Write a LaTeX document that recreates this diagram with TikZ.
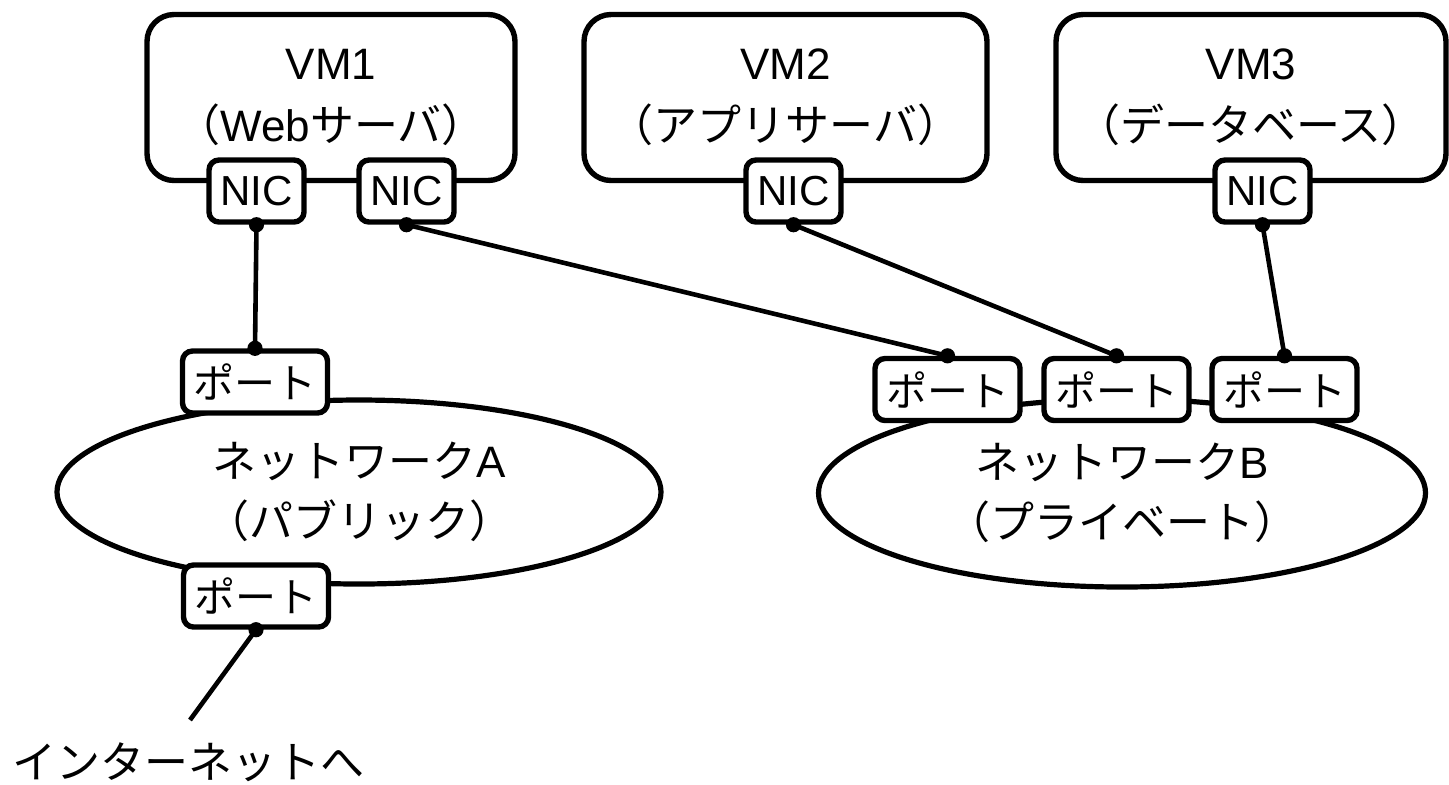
\documentclass[tikz,border=0pt]{standalone}
\usepackage{fontspec}
\setmainfont{Noto Sans CJK JP}
\newfontfamily\lat{Liberation Sans}
\usetikzlibrary{shapes.geometric}
\begin{document}
\begin{tikzpicture}[x=0.5pt,y=-0.5pt,
  vmbox/.style={draw, line width=2.7pt, rounded corners=13.5pt, fill=white, align=center,
    font=\fontsize{22}{31}\selectfont, inner sep=0pt, minimum height=83pt},
  nic/.style={draw, line width=2.7pt, rounded corners=5pt, fill=white, minimum width=47.5pt,
    minimum height=31pt, inner sep=0pt, font=\lat\fontsize{21}{24}\selectfont},
  port/.style={draw, line width=2.7pt, rounded corners=5pt, fill=white, minimum width=72.5pt,
    minimum height=31pt, inner sep=0pt, font=\fontsize{20.5}{24}\selectfont},
  net/.style={draw, ellipse, line width=2.6pt, inner sep=0pt, align=center,
    font=\fontsize{22}{30}\selectfont},
  conn/.style={line width=2.3pt},
  dotr/.style={radius=3.8pt}
]
\useasboundingbox (0,0) rectangle (1449,784);

% networks
\node[net, minimum width=302pt, minimum height=92pt] (na) at (359,492)
  {ネットワーク{\lat A}\\（パブリック）};
\node[net, minimum width=303.5pt, minimum height=94pt] (nb) at (1122,493)
  {ネットワーク{\lat B}\\（プライベート）};

% ports
\node[port] (pa1) at (255,382) {ポート};
\node[port] (pa2) at (256,596) {ポート};
\node[port] (pb1) at (947.5,389.5) {ポート};
\node[port] (pb2) at (1116.5,389.5) {ポート};
\node[port] (pb3) at (1284.5,389.5) {ポート};

% VMs
\node[vmbox, minimum width=184pt] (vm1) at (331,97.5) {{\lat VM1}\\（{\lat Web}サーバ）};
\node[vmbox, minimum width=201.5pt] (vm2) at (785.5,97.5) {{\lat VM2}\\（アプリサーバ）};
\node[vmbox, minimum width=195pt] (vm3) at (1251,97.5) {{\lat VM3}\\（データベース）};

% NICs
\node[nic] (n1) at (256.5,191) {NIC};
\node[nic] (n2) at (406.5,191) {NIC};
\node[nic] (n3) at (793.5,191) {NIC};
\node[nic] (n4) at (1262.5,191) {NIC};

% connectors
\coordinate (inet) at (190,720);
\draw[conn] (n1.south) -- (pa1.north);
\draw[conn] (n2.south) -- (pb1.north);
\draw[conn] (n3.south) -- (pb2.north);
\draw[conn] (n4.south) -- (pb3.north);
\draw[conn] (pa2.south) -- (inet);

\foreach \p in {n1.south,n2.south,n3.south,n4.south,pa1.north,pb1.north,pb2.north,pb3.north,pa2.south}
  \fill (\p) circle[dotr];

\node[font=\fontsize{22}{26}\selectfont] (inettext) at (188,762) {インターネットへ};
\end{tikzpicture}
\end{document}
